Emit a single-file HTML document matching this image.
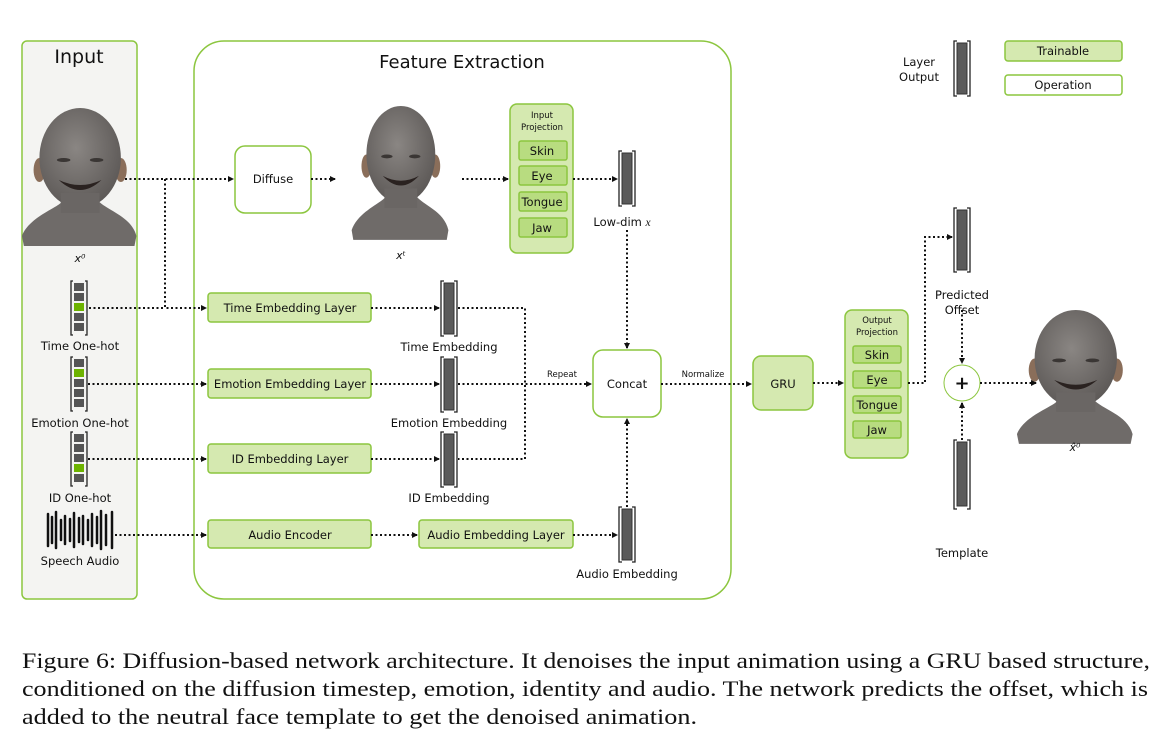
<!DOCTYPE html>
<html><head><meta charset="utf-8"><style>
body{margin:0;background:#fff;width:1158px;height:745px;overflow:hidden}
svg text{font-family:"DejaVu Sans","Liberation Sans",sans-serif;fill:#111}
svg text.cap{font-family:"Liberation Serif",serif;font-size:22px}
</style></head><body>
<svg width="1158" height="745" viewBox="0 0 1158 745" style="position:absolute;left:0;top:0">
<defs>
<marker id="a" markerWidth="6" markerHeight="6" refX="5" refY="3" orient="auto" markerUnits="userSpaceOnUse"><path d="M0,0L6,3L0,6z" fill="#111"/></marker>
<radialGradient id="hg" cx="0.45" cy="0.4" r="0.6"><stop offset="0" stop-color="#8a8683"/><stop offset="1" stop-color="#5e5a58"/></radialGradient>
<g id="face">
<path d="M2,128 C10,108 40,100 45,92 L80,92 C88,102 115,108 120,128 L118,138 L4,138z" fill="#6f6b69"/>
<ellipse cx="20" cy="62" rx="6" ry="12" fill="#8a6e5a"/><ellipse cx="104" cy="62" rx="6" ry="12" fill="#8a6e5a"/>
<ellipse cx="62" cy="50" rx="42" ry="50" fill="url(#hg)"/>
<rect x="42" y="85" width="40" height="20" fill="#6a6664"/>
<path d="M40,72 Q62,92 84,72 Q62,82 40,72z" fill="#2a2220"/>
<ellipse cx="45" cy="52" rx="7" ry="2" fill="#3a3634"/><ellipse cx="79" cy="52" rx="7" ry="2" fill="#3a3634"/>
</g>
</defs>
<rect x="22" y="41" width="115" height="558" rx="5" fill="#f4f4f2" stroke="#8cc63f" stroke-width="1.5"/>
<rect x="194" y="41" width="537" height="558" rx="30" fill="#fff" stroke="#8cc63f" stroke-width="1.5"/>
<text x="79" y="63" font-size="19" text-anchor="middle">Input</text>
<text x="462" y="68" font-size="18" text-anchor="middle">Feature Extraction</text>
<use href="#face" transform="translate(20,108) scale(0.97,1)"/>
<use href="#face" transform="translate(350,106) scale(0.82,0.97)"/>
<use href="#face" transform="translate(1015,310) scale(0.98,0.97)"/>
<text x="80" y="262" font-size="11" font-style="italic" text-anchor="middle" font-family="Liberation Serif">x⁰</text>
<text x="401" y="259" font-size="11" font-style="italic" text-anchor="middle" font-family="Liberation Serif">xᵗ</text>
<text x="1075" y="451" font-size="11" font-style="italic" text-anchor="middle" font-family="Liberation Serif">x̂⁰</text>
<g stroke="#8cc63f" stroke-width="1.5">
<rect x="235" y="146" width="76" height="67" rx="10" fill="#fff"/>
<rect x="593" y="350" width="68" height="67" rx="10" fill="#fff"/>
<rect x="510" y="104" width="63" height="149" rx="7" fill="#d5e9b0"/>
<rect x="845" y="310" width="63" height="148" rx="7" fill="#d5e9b0"/>
<rect x="753" y="356" width="60" height="54" rx="8" fill="#d5e9b0"/>
<rect x="208" y="293" width="163" height="29" rx="3" fill="#d5e9b0"/>
<rect x="208" y="369" width="163" height="29" rx="3" fill="#d5e9b0"/>
<rect x="208" y="444" width="163" height="29" rx="3" fill="#d5e9b0"/>
<rect x="208" y="520" width="163" height="28" rx="3" fill="#d5e9b0"/>
<rect x="419" y="520" width="154" height="28" rx="3" fill="#d5e9b0"/>
<rect x="1005" y="41" width="117" height="20" rx="3" fill="#d5e9b0"/>
<rect x="1005" y="75" width="117" height="20" rx="3" fill="#fff"/>
<g fill="#b8dc80">
<rect x="519" y="141" width="48" height="19" rx="2"/><rect x="519" y="166" width="48" height="19" rx="2"/><rect x="519" y="192" width="48" height="19" rx="2"/><rect x="519" y="218" width="48" height="19" rx="2"/>
<rect x="853" y="346" width="48" height="17" rx="2"/><rect x="853" y="371" width="48" height="17" rx="2"/><rect x="853" y="396" width="48" height="17" rx="2"/><rect x="853" y="421" width="48" height="17" rx="2"/>
</g>
<circle cx="962" cy="383" r="18" fill="#fff" stroke-width="1"/>
</g>
<text x="962" y="389" font-size="18" text-anchor="middle" font-weight="bold">+</text>
<g font-size="11.5" text-anchor="middle">
<text x="273" y="183">Diffuse</text><text x="627" y="388">Concat</text><text x="783" y="388">GRU</text>
<text x="290" y="312">Time Embedding Layer</text><text x="290" y="388">Emotion Embedding Layer</text>
<text x="290" y="463">ID Embedding Layer</text><text x="290" y="539">Audio Encoder</text><text x="496" y="539">Audio Embedding Layer</text>
<text x="1063" y="55">Trainable</text><text x="1063" y="89">Operation</text>
<text x="542" y="155">Skin</text><text x="542" y="180">Eye</text><text x="542" y="206">Tongue</text><text x="542" y="232">Jaw</text>
<text x="877" y="359">Skin</text><text x="877" y="384">Eye</text><text x="877" y="409">Tongue</text><text x="877" y="434">Jaw</text>
<text x="80" y="350">Time One-hot</text><text x="80" y="427">Emotion One-hot</text><text x="80" y="502">ID One-hot</text><text x="80" y="565">Speech Audio</text>
<text x="449" y="351">Time Embedding</text><text x="449" y="427">Emotion Embedding</text><text x="449" y="502">ID Embedding</text><text x="627" y="578">Audio Embedding</text>
<text x="622" y="226">Low-dim <tspan font-style="italic" font-family="Liberation Serif">x</tspan></text>
<text x="962" y="299">Predicted</text><text x="962" y="314">Offset</text><text x="962" y="557">Template</text>
<text x="919" y="66">Layer</text><text x="919" y="81">Output</text>
</g>
<g font-size="8.5" text-anchor="middle">
<text x="542" y="118">Input</text><text x="542" y="130">Projection</text>
<text x="877" y="323">Output</text><text x="877" y="335">Projection</text>
<text x="562" y="377">Repeat</text><text x="703" y="377">Normalize</text>
</g>
<g fill="#5a5a5a" stroke="#333" stroke-width="1">
<rect x="622" y="153" width="10" height="51"/><rect x="444" y="283" width="10" height="51"/><rect x="444" y="359" width="10" height="51"/><rect x="444" y="434" width="10" height="51"/>
<rect x="622" y="509" width="10" height="51"/><rect x="957" y="210" width="10" height="60"/><rect x="957" y="442" width="10" height="64"/><rect x="957" y="43" width="10" height="51"/>
</g>
<g fill="none" stroke="#222" stroke-width="1.3">
<path d="M622,151h-3v55h3M632,151h3v55h-3"/><path d="M444,281h-3v55h3M454,281h3v55h-3"/><path d="M444,357h-3v55h3M454,357h3v55h-3"/><path d="M444,432h-3v55h3M454,432h3v55h-3"/>
<path d="M622,507h-3v55h3M632,507h3v55h-3"/><path d="M957,208h-3v64h3M967,208h3v64h-3"/><path d="M957,440h-3v69h3M967,440h3v69h-3"/><path d="M957,41h-3v55h3M967,41h3v55h-3"/>
<path d="M73,281h-2v54h2M85,281h2v54h-2"/><path d="M73,357h-2v54h2M85,357h2v54h-2"/><path d="M73,432h-2v54h2M85,432h2v54h-2"/>
</g>
<g fill="#555">
<rect x="74" y="283" width="10" height="8"/><rect x="74" y="293" width="10" height="8"/><rect x="74" y="303" width="10" height="8" fill="#6db300"/><rect x="74" y="313" width="10" height="8"/><rect x="74" y="323" width="10" height="8"/>
<rect x="74" y="359" width="10" height="8"/><rect x="74" y="369" width="10" height="8" fill="#6db300"/><rect x="74" y="379" width="10" height="8"/><rect x="74" y="389" width="10" height="8"/><rect x="74" y="399" width="10" height="8"/>
<rect x="74" y="434" width="10" height="8"/><rect x="74" y="444" width="10" height="8"/><rect x="74" y="454" width="10" height="8"/><rect x="74" y="464" width="10" height="8" fill="#6db300"/><rect x="74" y="474" width="10" height="8"/>
</g>
<g stroke="#111" stroke-width="2.5" stroke-linecap="round" transform="translate(0,-4)">
<path d="M48,518v32M52,521v26M56,516v36M61,524v20M65,520v28M70,523v22M74,517v34M79,522v24M83,520v28M88,524v20M92,518v32M97,521v26M101,515v38M106,519v30M112,516v36"/>
</g>
<g fill="none" stroke="#111" stroke-width="2" stroke-dasharray="2 2.5">
<path d="M125,179H233" marker-end="url(#a)"/>
<path d="M165,179V308H206" marker-end="url(#a)"/>
<path d="M89,308H165"/>
<path d="M88,384H206" marker-end="url(#a)"/>
<path d="M88,459H206" marker-end="url(#a)"/>
<path d="M115,535H206" marker-end="url(#a)"/>
<path d="M311,179H335" marker-end="url(#a)"/>
<path d="M462,179H508" marker-end="url(#a)"/>
<path d="M573,179H617" marker-end="url(#a)"/>
<path d="M371,308H439" marker-end="url(#a)"/>
<path d="M371,384H439" marker-end="url(#a)"/>
<path d="M371,459H439" marker-end="url(#a)"/>
<path d="M371,535H417" marker-end="url(#a)"/>
<path d="M573,535H617" marker-end="url(#a)"/>
<path d="M458,308H525V459H458"/>
<path d="M458,384H591" marker-end="url(#a)"/>
<path d="M627,230V348" marker-end="url(#a)"/>
<path d="M627,507V419" marker-end="url(#a)"/>
<path d="M661,384H751" marker-end="url(#a)"/>
<path d="M813,383H843" marker-end="url(#a)"/>
<path d="M908,383H925V237H952" marker-end="url(#a)"/>
<path d="M962,310V363" marker-end="url(#a)"/>
<path d="M962,440V403" marker-end="url(#a)"/>
<path d="M980,383H1036" marker-end="url(#a)"/>
</g>
<text class="cap" x="22" y="668" textLength="1128" lengthAdjust="spacingAndGlyphs">Figure 6: Diffusion-based network architecture. It denoises the input animation using a GRU based structure,</text>
<text class="cap" x="22" y="696" textLength="1126" lengthAdjust="spacingAndGlyphs">conditioned on the diffusion timestep, emotion, identity and audio. The network predicts the offset, which is</text>
<text class="cap" x="22" y="724" textLength="675" lengthAdjust="spacingAndGlyphs">added to the neutral face template to get the denoised animation.</text>
</svg>
</body></html>
